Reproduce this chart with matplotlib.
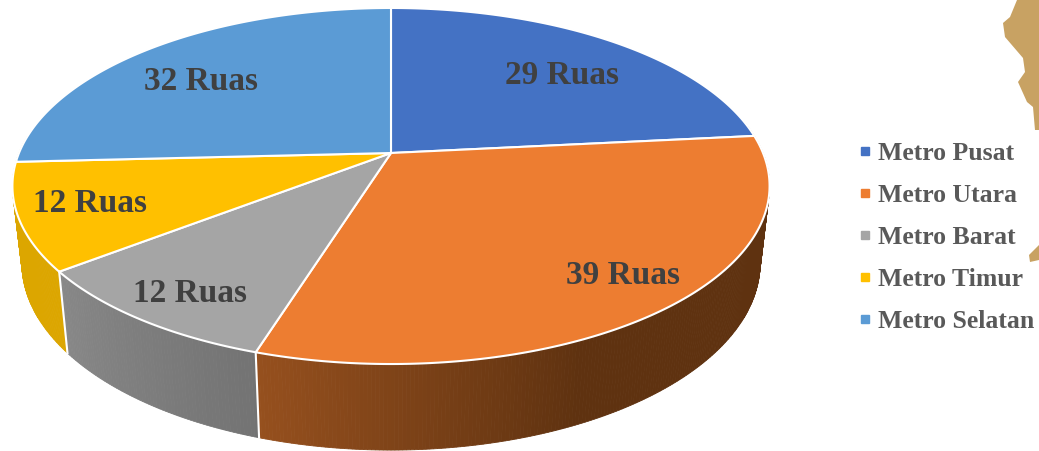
import numpy as np
import matplotlib
matplotlib.use("Agg")
import matplotlib.pyplot as plt
from matplotlib.colors import to_rgb
from matplotlib.lines import Line2D

# Data
categories = ["Metro Pusat", "Metro Utara", "Metro Barat", "Metro Timur", "Metro Selatan"]
ruas = [29, 39, 12, 12, 32]
colors = ["#4472C4", "#ED7D31", "#A5A5A5", "#FFC000", "#5B9BD5"]

# Label positions in picture pixels
label_x = [562, 623, 190, 90, 201]
label_y = [75, 276, 293, 203, 82]

# Pie geometry (perspective view)
cx, cy = 391, 153
R, b, k = 372, 171.9, 0.1854
wall_fx, wall_fy, wall_y = 0.975, 1.05, 228.5


def top_xy(t):
    c, s = np.sin(t), -np.cos(t)
    d = 1 - k * s
    return cx + R * c / d, cy + b * s / d


def bottom_xy(t):
    c, s = np.sin(t), -np.cos(t)
    d = 1 - k * s
    return cx + wall_fx * R * c / d, wall_y + wall_fy * b * s / d


def mix(c1, c2, f):
    a, e = np.array(to_rgb(c1)), np.array(to_rgb(c2))
    return tuple(a + (e - a) * f)


fig = plt.figure(figsize=(10.39, 4.51), dpi=100)
ax = fig.add_axes([0, 0, 1, 1])
ax.set_xlim(0, 1039)
ax.set_ylim(451, 0)
ax.axis("off")

edges = np.cumsum([0] + ruas) / sum(ruas) * 2 * np.pi
edge_deg = np.degrees(edges)

# Map piece behind the legend
ax.fill([1017, 1010, 1003, 1005, 1023, 1025, 1018, 1027, 1033, 1035, 1039, 1039],
        [0, 17, 23, 37, 58, 72, 82, 102, 107, 130, 130, 0], color="#C8A263", lw=0)
ax.fill([1039, 1029, 1030, 1039], [245, 255, 262, 260], color="#C8A263", lw=0)

# Side wall
t_all = np.radians(np.arange(80, 276, 0.5))
for t0, t1 in zip(t_all[:-1], t_all[1:]):
    deg = np.degrees((t0 + t1) / 2)
    if deg < edge_deg[2]:
        col = "#5F3210" if deg < 155 else mix("#5F3210", "#96501E", (deg - 155) / (edge_deg[2] - 155))
    elif deg < edge_deg[3]:
        col = mix("#737373", "#888888", (deg - edge_deg[2]) / (edge_deg[3] - edge_deg[2]))
    else:
        col = "#DCA600"
    xt0, yt0 = top_xy(t0)
    xt1, yt1 = top_xy(t1)
    xb0, yb0 = bottom_xy(t0)
    xb1, yb1 = bottom_xy(t1)
    ax.fill([xt0, xt1, xb1, xb0], [yt0, yt1, yb1, yb0], color=col, lw=0.6)

# Wall seams
for i in [2, 3]:
    xt, yt = top_xy(edges[i])
    xb, yb = bottom_xy(edges[i])
    ax.plot([xt, xb], [yt, yb], color="white", lw=1.5)

# Top face
for i in range(len(ruas)):
    t = np.linspace(edges[i], edges[i + 1], 200)
    x, y = top_xy(t)
    ax.fill(np.r_[cx, x], np.r_[cy, y], facecolor=colors[i], edgecolor="white",
            lw=1.5, joinstyle="round")

# Labels
for i in range(len(ruas)):
    ax.text(label_x[i], label_y[i], f"{ruas[i]} Ruas", ha="center", va="center",
            family="Liberation Serif", weight="bold", fontsize=24, color="#404040")

# Legend
handles = [Line2D([], [], ls="", marker="s", ms=6, color=c) for c in colors]
leg = ax.legend(handles, categories, loc="upper left", bbox_to_anchor=(855 / 1039, 1 - 142 / 451),
                frameon=False, prop={"family": "Liberation Serif", "weight": "bold", "size": 18.5},
                labelcolor="#595959", handlelength=0.75, handletextpad=0.13,
                labelspacing=0.74, borderpad=0, borderaxespad=0)

plt.savefig("out.png", dpi=100)
